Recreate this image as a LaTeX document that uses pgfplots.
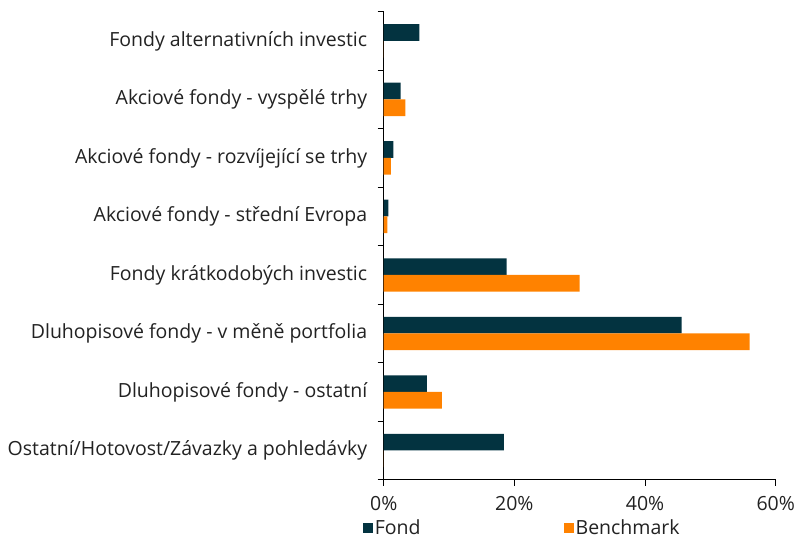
\documentclass[border=0pt]{standalone}
\usepackage{pgfplots}
\pgfplotsset{compat=1.18}
\usepackage{fontspec}
\setmainfont{Open Sans}
\definecolor{fond}{HTML}{033340}
\definecolor{bench}{HTML}{FF8200}
\definecolor{txt}{HTML}{222222}
\begin{document}
\begin{tikzpicture}
\begin{axis}[
  name=ax,
  scale only axis,
  width=392pt, height=468pt,
  xbar, bar width=16.7pt,
  xmin=0, xmax=60,
  ymin=-0.5, ymax=7.5,
  axis lines*=left,
  axis line style={line width=1pt, black},
  tick align=outside,
  major tick length=6pt,
  tick style={line width=1pt, black},
  xtick={0,20,40,60},
  xticklabels={0\%,20\%,40\%,60\%},
  xticklabel style={yshift=-7pt},
  ytick={-0.5,0.5,...,7.5},
  yticklabels={},
  extra y ticks={0,1,2,3,4,5,6,7},
  extra y tick labels={Ostatní/Hotovost/Závazky a pohledávky,
    Dluhopisové fondy - ostatní,
    Dluhopisové fondy - v měně portfolia,
    Fondy krátkodobých investic,
    Akciové fondy - střední Evropa,
    Akciové fondy - rozvíjející se trhy,
    Akciové fondy - vyspělé trhy,
    Fondy alternativních investic},
  extra y tick style={tick style={draw=none}, yticklabel style={xshift=-7pt}},
  ticklabel style={font=\fontsize{19.5}{22}\selectfont, text=txt},
  /pgf/number format/assume math mode=true,
  legend style={at={(rel axis cs:0,0)}, anchor=north west, xshift=-22pt, yshift=-37pt,
    draw=none, font=\fontsize{19.5}{22}\selectfont, text=txt, legend columns=2,
    inner sep=1pt,
    /tikz/every even column/.append style={column sep=141pt}},
  legend image code/.code={\fill[#1] (0pt,-5pt) rectangle (10pt,5pt);},
]
\addplot[fill=fond, draw=none, bar shift=8.35pt] coordinates {
 (18.4,0) (6.6,1) (45.6,2) (18.8,3) (0.7,4) (1.5,5) (2.6,6) (5.45,7)};
\addplot[fill=bench, draw=none, bar shift=-8.35pt] coordinates {
 (0,0) (8.9,1) (56.0,2) (30.0,3) (0.55,4) (1.1,5) (3.3,6) (0,7)};
\legend{Fond, Benchmark}
\end{axis}
\pgfresetboundingbox
\path[use as bounding box] ([shift={(-383.7pt,-60pt)}]ax.south west) rectangle ([shift={(22.3pt,11.7pt)}]ax.north east);
\end{tikzpicture}
\end{document}
